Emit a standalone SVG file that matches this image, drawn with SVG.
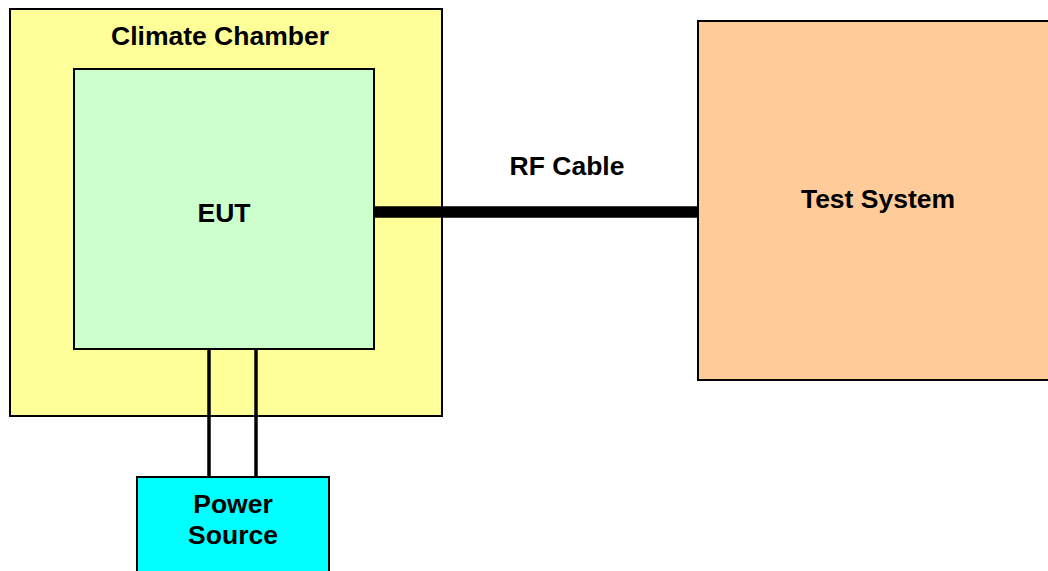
<svg xmlns="http://www.w3.org/2000/svg" width="1048" height="571" viewBox="0 0 1048 571">
<style>
.box{stroke:#000;stroke-width:2}
.lbl{font-family:"Liberation Sans",Arial,Helvetica,sans-serif;font-weight:bold;font-size:26.5px;fill:#000;text-anchor:middle}
.wire{stroke:#000;stroke-width:3.5;fill:none}
.rf{stroke:#000;stroke-width:11.5;fill:none}
</style>
<rect width="1048" height="571" fill="#fff"/>
<g id="climate-chamber">
<rect class="box" x="10" y="9" width="432" height="407" fill="#FFFF99"/>
<text class="lbl" x="220" y="45">Climate Chamber</text>
</g>
<g id="eut">
<rect class="box" x="74" y="69" width="300" height="280" fill="#CCFFCC"/>
<text class="lbl" x="224" y="222">EUT</text>
</g>
<g id="test-system">
<rect class="box" x="698" y="21" width="360" height="359" fill="#FFCC99"/>
<text class="lbl" x="878" y="208">Test System</text>
</g>
<g id="power-source">
<rect class="box" x="137" y="477" width="192" height="110" fill="#00FFFF"/>
<text class="lbl" x="233" y="513">Power</text>
<text class="lbl" x="233" y="544">Source</text>
</g>
<g id="connectors">
<line class="rf" x1="374" y1="212" x2="698" y2="212"/>
<line class="wire" x1="209" y1="350" x2="209" y2="476"/>
<line class="wire" x1="256" y1="350" x2="256" y2="476"/>
<text class="lbl" x="567" y="175">RF Cable</text>
</g>
</svg>
